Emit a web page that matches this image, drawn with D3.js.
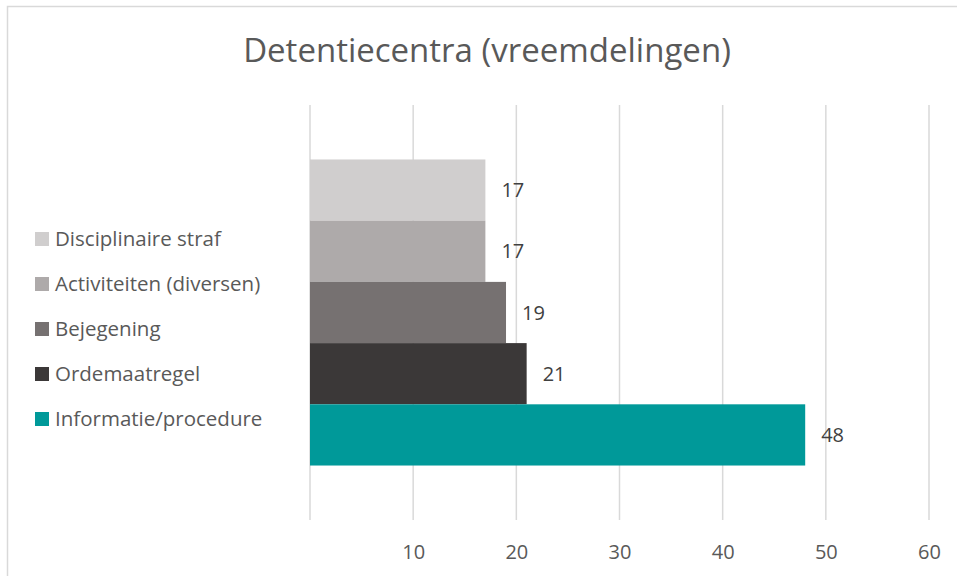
<!DOCTYPE html>
<html>
<head>
<meta charset="utf-8">
<script src="https://cdn.jsdelivr.net/npm/d3@7"></script>
<style>
    body { margin: 0; background: #fff; }
    svg text { font-family: "Open Sans", "Noto Sans", sans-serif; }
</style>
</head>
<body>
<div id="vis-container"></div>
<script>
"use strict";

// Chart data
const categories = ["Disciplinaire straf", "Activiteiten (diversen)", "Bejegening", "Ordemaatregel", "Informatie/procedure"];
const values = [17, 17, 19, 21, 48];
const colors = ["#d0cece", "#aeaaaa", "#767171", "#3b3838", "#009999"];
const tickValues = [10, 20, 30, 40, 50, 60];
const title = "Detentiecentra (vreemdelingen)";

function mainIndex()
{
    const width = 957, height = 576;

    const svg = d3.select("#vis-container")
        .append("svg")
        .attr("width", width)
        .attr("height", height);

    // Outer frame
    svg.append("rect")
        .attr("x", 7.5).attr("y", 6.5)
        .attr("width", 960).attr("height", 580)
        .attr("fill", "#fff")
        .attr("stroke", "#d9d9d9")
        .attr("stroke-width", 1.5);

    // Title
    svg.append("text")
        .attr("x", 487)
        .attr("y", 62)
        .attr("text-anchor", "middle")
        .style("font-size", "33px")
        .style("fill", "#595959")
        .text(title);

    const plot = { top: 105, bottom: 520 };

    const x = d3.scaleLinear().domain([0, 60]).range([310, 929]);

    // single category band, series are sub-bands inside it
    const yOuter = d3.scaleBand().domain(["all"]).range([plot.top, plot.bottom]).paddingInner(0).paddingOuter(0.178);
    const y = d3.scaleBand().domain(categories)
        .range([yOuter("all"), yOuter("all") + yOuter.bandwidth()]);

    // gridlines
    svg.append("g")
        .selectAll("line")
        .data([0].concat(tickValues))
        .join("line")
        .attr("x1", d => x(d)).attr("x2", d => x(d))
        .attr("y1", plot.top).attr("y2", plot.bottom)
        .attr("stroke", "#d9d9d9")
        .attr("stroke-width", 1.5);

    // x axis labels
    const xAxis = d3.axisBottom(x).tickValues(tickValues).tickSize(0).tickPadding(0);
    const axisG = svg.append("g")
        .attr("transform", `translate(0, ${plot.bottom + 25})`)
        .call(xAxis);
    axisG.select(".domain").remove();
    axisG.selectAll("text")
        .style("font-size", "20px")
        .style("fill", "#595959")
        .attr("font-family", null);

    // bars
    svg.append("g")
        .selectAll("rect")
        .data(categories)
        .join("rect")
        .attr("x", x(0))
        .attr("y", d => y(d))
        .attr("width", (d, i) => x(values[i]) - x(0))
        .attr("height", y.bandwidth())
        .attr("fill", (d, i) => colors[i]);

    // value labels
    svg.append("g")
        .selectAll("text")
        .data(categories)
        .join("text")
        .attr("x", (d, i) => x(values[i]) + 16)
        .attr("y", d => y(d) + y.bandwidth() / 2)
        .attr("dy", "0.35em")
        .style("font-size", "20px")
        .style("fill", "#404040")
        .text((d, i) => values[i]);

    // legend
    const legend = svg.append("g")
        .selectAll("g")
        .data(categories)
        .join("g")
        .attr("transform", (d, i) => `translate(35, ${239 + i * 45})`);

    legend.append("rect")
        .attr("x", 0).attr("y", -7)
        .attr("width", 14).attr("height", 14)
        .attr("fill", (d, i) => colors[i]);

    legend.append("text")
        .attr("x", 20)
        .attr("y", 0)
        .attr("dy", "0.35em")
        .style("font-size", "20.5px")
        .style("fill", "#595959")
        .text(d => d);
}

document.addEventListener("DOMContentLoaded", mainIndex);
</script>
</body>
</html>
